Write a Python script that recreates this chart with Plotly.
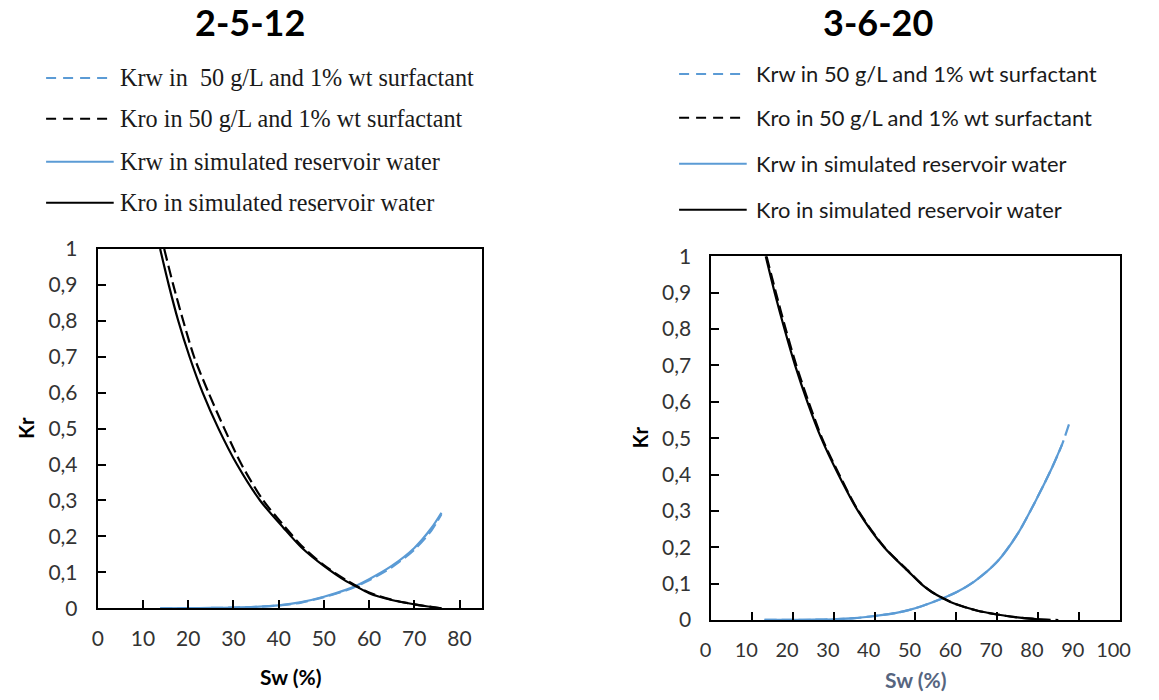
import plotly.graph_objects as go

# Figure size/offsets calibrated so that the photographed page lines up with the reference
W, H = 1143, 700
OX = 5.2            # horizontal page offset of the figure
SY, OY = 0.966, 13.4  # vertical scale / offset observed for the photographed page

# ---------------- data ----------------
CHART_TITLES = ["2-5-12", "3-6-20"]
LEGEND_LEFT = ["Krw in  50 g/L and 1% wt surfactant",
               "Kro in 50 g/L and 1% wt surfactant",
               "Krw in simulated reservoir water",
               "Kro in simulated reservoir water"]
LEGEND_RIGHT = ["Krw in 50 g/L and 1% wt surfactant",
                "Kro in 50 g/L and 1% wt surfactant",
                "Krw in simulated reservoir water",
                "Kro in simulated reservoir water"]

X_TICKS_LEFT = [0, 10, 20, 30, 40, 50, 60, 70, 80]
X_TICKS_RIGHT = [0, 10, 20, 30, 40, 50, 60, 70, 80, 90, 100]
Y_TICKS = [0, 0.1, 0.2, 0.3, 0.4, 0.5, 0.6, 0.7, 0.8, 0.9, 1]
Y_TICK_LABELS = ["0", "0,1", "0,2", "0,3", "0,4", "0,5", "0,6", "0,7", "0,8", "0,9", "1"]

# 2-5-12, simulated reservoir water
sw_kro_sim_L = [13.8, 15.7, 17.8, 20.3, 23.2, 26.7, 30.8, 35.9, 41.0, 45, 50, 55, 57, 60, 65, 70, 73, 76]
kro_sim_L = [1.0, 0.9, 0.8, 0.7, 0.6, 0.5, 0.4, 0.3, 0.225, 0.17, 0.118, 0.075, 0.062, 0.042, 0.023, 0.011, 0.005, 0.0]
sw_krw_sim_L = [13.8, 20, 25, 30, 35, 40, 45, 50, 55, 57, 60, 65, 70, 73.7, 76]
krw_sim_L = [0.0, 0.0003, 0.001, 0.002, 0.004, 0.008, 0.017, 0.032, 0.052, 0.062, 0.081, 0.118, 0.168, 0.222, 0.266]
# 2-5-12, 50 g/L and 1% wt surfactant
sw_kro_surf_L = [14.7, 16.7, 18.9, 21.3, 24.5, 28.0, 31.8, 36.6, 41.5, 45, 50, 55, 60, 65, 70, 76]
kro_surf_L = [1.0, 0.9, 0.8, 0.7, 0.6, 0.5, 0.4, 0.3, 0.225, 0.175, 0.12, 0.078, 0.044, 0.024, 0.011, 0.0]
sw_krw_surf_L = [13.8, 20, 25, 30, 35, 40, 45, 50, 55, 57, 60, 65, 70, 73.7, 76]
krw_surf_L = [0.0, 0.0003, 0.001, 0.002, 0.004, 0.008, 0.016, 0.031, 0.05, 0.06, 0.078, 0.114, 0.163, 0.215, 0.262]

# 3-6-20, simulated reservoir water
sw_kro_sim_R = [13.3, 15.5, 17.9, 20.5, 23.5, 26.9, 31.1, 35.9, 42.3, 48.3, 51.5, 54, 56.7, 60, 65, 70, 75, 80, 83]
kro_sim_R = [1.0, 0.9, 0.8, 0.7, 0.6, 0.5, 0.4, 0.3, 0.2, 0.133, 0.098, 0.077, 0.06, 0.043, 0.026, 0.015, 0.007, 0.002, 0.0]
sw_krw_sim_R = [13, 20, 25, 30, 35, 40, 45, 48.3, 52, 56.7, 60, 64.3, 70, 75.1, 80, 83.5, 85.9]
krw_sim_R = [0.0, 0.0002, 0.0008, 0.002, 0.005, 0.011, 0.019, 0.027, 0.04, 0.06, 0.076, 0.105, 0.16, 0.238, 0.34, 0.42, 0.482]
# 3-6-20, 50 g/L and 1% wt surfactant
sw_kro_surf_R = [13.5, 15.8, 18.2, 20.8, 23.8, 27.1, 31.3, 36.0, 42.4, 48.4, 51.6, 54, 56.8, 60, 65, 70, 75, 80, 85]
kro_surf_R = [1.0, 0.9, 0.8, 0.7, 0.6, 0.5, 0.4, 0.3, 0.2, 0.133, 0.098, 0.077, 0.06, 0.043, 0.026, 0.015, 0.007, 0.002, 0.0]
sw_krw_surf_R = [13, 20, 25, 30, 35, 40, 45, 48.3, 52, 56.7, 60, 64.3, 70, 75.1, 80, 83.5, 85.9, 87.8]
krw_surf_R = [0.0, 0.0002, 0.0008, 0.002, 0.005, 0.011, 0.019, 0.027, 0.04, 0.06, 0.076, 0.105, 0.16, 0.238, 0.34, 0.42, 0.482, 0.545]

# ---------------- styling ----------------
BLUE = "#5b9bd5"
BLACK = "#000000"
DASH = "12px,5px"
TICK_FONT = dict(family="Lato", size=21, color="#333333")
TICK_FONT_R = dict(family="Lato", size=20, color="#333333")


def pxx(x):
    """reference pixel x -> paper x"""
    return (x - OX) / W


def pyy(y):
    """reference pixel y -> paper y"""
    return 1 - (y / SY - OY) / H


fig = go.Figure()


def add(x, y, color, dash, xa, ya, name):
    fig.add_trace(go.Scatter(
        x=x, y=y, mode="lines", name=name, showlegend=False,
        line=dict(color=color, width=2.2, dash=dash, shape="spline", smoothing=0.8),
        xaxis=xa, yaxis=ya, hoverinfo="x+y+name"))


add(sw_krw_sim_L, krw_sim_L, BLUE, "solid", "x", "y", LEGEND_LEFT[2])
add(sw_krw_surf_L, krw_surf_L, BLUE, DASH, "x", "y", LEGEND_LEFT[0])
add(sw_kro_sim_L, kro_sim_L, BLACK, "solid", "x", "y", LEGEND_LEFT[3])
add(sw_kro_surf_L, kro_surf_L, BLACK, DASH, "x", "y", LEGEND_LEFT[1])

add(sw_krw_surf_R, krw_surf_R, BLUE, DASH, "x2", "y2", LEGEND_RIGHT[0])
add(sw_krw_sim_R, krw_sim_R, BLUE, "solid", "x2", "y2", LEGEND_RIGHT[2])
add(sw_kro_surf_R, kro_surf_R, BLACK, DASH, "x2", "y2", LEGEND_RIGHT[1])
add(sw_kro_sim_R, kro_sim_R, BLACK, "solid", "x2", "y2", LEGEND_RIGHT[3])

axis_common = dict(showgrid=False, zeroline=False, showline=True, linecolor="black",
                   linewidth=2, mirror=True, ticks="inside", ticklen=8, tickwidth=1.5,
                   tickcolor="black", fixedrange=True)

fig.update_layout(
    width=W, height=H,
    margin=dict(l=0, r=0, t=0, b=0),
    paper_bgcolor="white", plot_bgcolor="white",
    xaxis=dict(domain=[pxx(92.7), pxx(485)], range=[0, 85], tickvals=X_TICKS_LEFT,
               anchor="y", ticklabelstandoff=11, tickfont=TICK_FONT, **axis_common),
    yaxis=dict(domain=[pyy(608.3), pyy(248.3)], range=[0, 1], tickvals=Y_TICKS,
               ticktext=Y_TICK_LABELS, anchor="x", ticklabelstandoff=14,
               tickfont=TICK_FONT, **axis_common),
    xaxis2=dict(domain=[pxx(719), pxx(1135.5)], range=[0, 100], tickvals=X_TICKS_RIGHT,
                anchor="y2", ticklabelstandoff=11, tickfont=TICK_FONT_R,
                ticklabeloverflow="allow", ticklabelshift=-6, **axis_common),
    yaxis2=dict(domain=[pyy(620), pyy(255.7)], range=[0, 1], tickvals=Y_TICKS,
                ticktext=Y_TICK_LABELS, anchor="x2", ticklabelstandoff=14,
                tickfont=TICK_FONT, **axis_common),
)

annotations = []
shapes = []

# Titles
for t, cx in zip(CHART_TITLES, [248, 889]):
    annotations.append(dict(text="<b>" + t + "</b>", x=pxx(cx), y=pyy(21.3),
                            xref="paper", yref="paper", showarrow=False, xanchor="center",
                            yanchor="middle", font=dict(family="Lato", size=36, color="black")))

# Axis titles
annotations.append(dict(text="<b>Kr</b>", x=pxx(20), y=pyy(428), xref="paper", yref="paper",
                        showarrow=False, textangle=-90, xanchor="center", yanchor="middle",
                        font=dict(family="Lato", size=20, color="black")))
annotations.append(dict(text="<b>Sw (%)</b>", x=pxx(289), y=pyy(677), xref="paper", yref="paper",
                        showarrow=False, xanchor="center", yanchor="middle",
                        font=dict(family="Lato", size=21, color="black")))
annotations.append(dict(text="<b>Kr</b>", x=pxx(646), y=pyy(437), xref="paper", yref="paper",
                        showarrow=False, textangle=-90, xanchor="center", yanchor="middle",
                        font=dict(family="Lato", size=20, color="black")))
annotations.append(dict(text="<b>Sw (%)</b>", x=pxx(927), y=pyy(680), xref="paper", yref="paper",
                        showarrow=False, xanchor="center", yanchor="middle",
                        font=dict(family="Lato", size=21, color="#56657f")))

# Manual legends
leg_styles = [(BLUE, DASH), (BLACK, DASH), (BLUE, "solid"), (BLACK, "solid")]
left_rows = [77, 118, 161, 202]
right_rows = [73, 117, 163, 209]
for i, (col, dsh) in enumerate(leg_styles):
    ldash = "10px,7px" if dsh != "solid" else "solid"
    shapes.append(dict(type="line", xref="paper", yref="paper", x0=pxx(40), x1=pxx(109),
                       y0=pyy(left_rows[i]), y1=pyy(left_rows[i]),
                       line=dict(color=col, width=2, dash=ldash)))
    annotations.append(dict(text=LEGEND_LEFT[i], x=pxx(113), y=pyy(left_rows[i]),
                            xref="paper", yref="paper", showarrow=False, xanchor="left",
                            yanchor="middle",
                            font=dict(family="Liberation Serif", size=24.2, color="#1a1a1a")))
    shapes.append(dict(type="line", xref="paper", yref="paper", x0=pxx(686), x1=pxx(755),
                       y0=pyy(right_rows[i]), y1=pyy(right_rows[i]),
                       line=dict(color=col, width=2, dash=ldash)))
    annotations.append(dict(text=LEGEND_RIGHT[i], x=pxx(762), y=pyy(right_rows[i]),
                            xref="paper", yref="paper", showarrow=False, xanchor="left",
                            yanchor="middle",
                            font=dict(family="Lato", size=21.9, color="#1a1a1a")))

fig.update_layout(annotations=annotations, shapes=shapes)

fig.write_html("out.html")
